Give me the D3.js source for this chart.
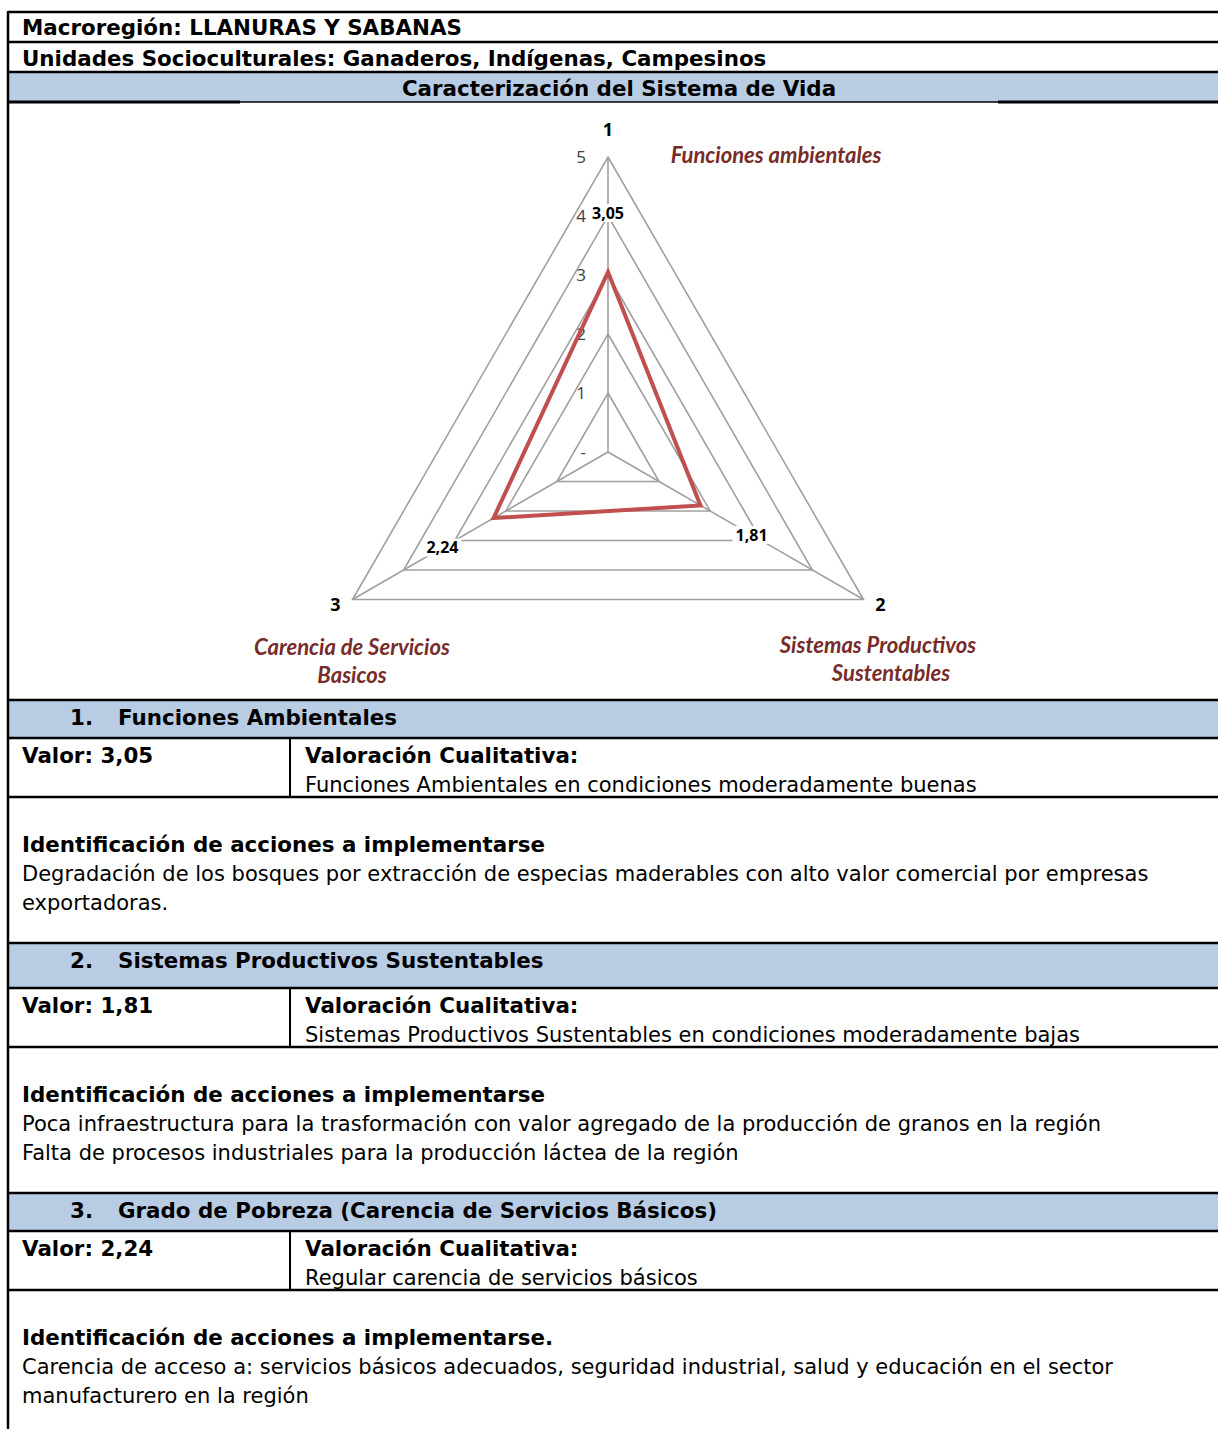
<!DOCTYPE html>
<html>
<head>
<meta charset="utf-8">
<script src="https://cdn.jsdelivr.net/npm/d3@7"></script>
<style>
  body { margin: 0; background: #fff; }
  svg text { font-family: "DejaVu Sans", sans-serif; }
</style>
</head>
<body>
<div id="root"></div>
<script>
// Chart data
const axisIds = ["1", "2", "3"];
const axisNames = [["Funciones ambientales"], ["Sistemas Productivos", "Sustentables"], ["Carencia de Servicios", "Basicos"]];
const values = [3.05, 1.81, 2.24];
const valueLabels = ["3,05", "1,81", "2,24"];
const tickValues = [0, 1, 2, 3, 4, 5];
const tickLabels = ["-", "1", "2", "3", "4", "5"];

// Document texts
const headerLines = ["Macroregión: LLANURAS Y SABANAS", "Unidades Socioculturales: Ganaderos, Indígenas, Campesinos"];
const chartTitle = "Caracterización del Sistema de Vida";
const sectionTitles = ["Funciones Ambientales", "Sistemas Productivos Sustentables", "Grado de Pobreza (Carencia de Servicios Básicos)"];
const qualitative = [
  "Funciones Ambientales en condiciones moderadamente buenas",
  "Sistemas Productivos Sustentables en condiciones moderadamente bajas",
  "Regular carencia de servicios básicos"
];
const actionTitles = ["Identificación de acciones a implementarse", "Identificación de acciones a implementarse", "Identificación de acciones a implementarse."];
const actionLines = [
  ["Degradación de los bosques por extracción de especias maderables con alto valor comercial por empresas", "exportadoras."],
  ["Poca infraestructura para la trasformación con valor agregado de la producción de granos en la región", "Falta de procesos industriales para la producción láctea de la región"],
  ["Carencia de acceso a: servicios básicos adecuados, seguridad industrial, salud y educación en el sector", "manufacturero en la región"]
];

const width = 1218, height = 1429;
const blue = "#b8cce4";
const fs = 21, fsBold = 21.4;

const svg = d3.select("#root").append("svg")
  .attr("width", width).attr("height", height);

const hline = (y, x1, x2, w) => svg.append("line")
  .attr("x1", x1).attr("x2", x2).attr("y1", y).attr("y2", y)
  .attr("stroke", "#000").attr("stroke-width", w);
const txt = (x, y, s, bold, anchor) => svg.append("text")
  .attr("x", x).attr("y", y).attr("dy", "0.36em")
  .attr("font-size", bold ? fsBold : fs).attr("font-weight", bold ? "bold" : "normal")
  .attr("text-anchor", anchor || "start").attr("fill", "#000").text(s);

// Header rows
svg.append("rect").attr("x", 8).attr("y", 72).attr("width", width - 8).attr("height", 30).attr("fill", blue);
hline(12, 8, width, 2.5);
hline(42, 8, width, 2.5);
hline(72, 8, width, 2.5);
hline(102, 8, 240, 3);
hline(102, 240, 998, 1.5);
hline(102, 998, width, 3);
txt(22, 27, headerLines[0], true);
txt(22, 58, headerLines[1], true);
txt(619, 88, chartTitle, true, "middle");

// Radar chart
const cx = 608, cy = 452;
const r = d3.scaleLinear().domain([0, 5]).range([0, 295]);
const angle = d3.scaleLinear().domain([0, axisIds.length]).range([0, 2 * Math.PI]);
const pt = (i, v) => [cx + r(v) * Math.sin(angle(i)), cy - r(v) * Math.cos(angle(i))];

const grid = svg.append("g").attr("fill", "none").attr("stroke", "#a0a0a0").attr("stroke-width", 1.6);
grid.selectAll("path.level")
  .data(tickValues.filter(d => d > 0))
  .join("path")
  .attr("d", v => d3.line()(axisIds.map((_, i) => pt(i, v))) + "Z");
grid.selectAll("line")
  .data(axisIds)
  .join("line")
  .attr("x1", cx).attr("y1", cy)
  .attr("x2", (d, i) => pt(i, 5)[0]).attr("y2", (d, i) => pt(i, 5)[1]);

svg.append("g").selectAll("text")
  .data(tickValues)
  .join("text")
  .attr("x", cx - 22).attr("y", d => cy - r(d))
  .attr("dy", "0.35em").attr("text-anchor", "end")
  .style("font-family", "'Open Sans', sans-serif")
  .attr("font-size", 17).attr("fill", "#404040")
  .text((d, i) => tickLabels[i]);

svg.append("path")
  .attr("d", d3.line()(values.map((v, i) => pt(i, v))) + "Z")
  .attr("fill", "none").attr("stroke", "#c0504d").attr("stroke-width", 4)
  .attr("stroke-linejoin", "miter");

// value labels with white box
const vl = svg.append("g").selectAll("g")
  .data(values)
  .join("g")
  .attr("transform", (d, i) => `translate(${pt(i, d + 1)})`);
vl.append("rect").attr("x", -19).attr("y", -9).attr("width", 38).attr("height", 18).attr("fill", "#fff");
vl.append("text")
  .attr("text-anchor", "middle").attr("dy", "0.35em")
  .style("font-family", "'Open Sans', sans-serif")
  .attr("font-size", 16).attr("font-weight", "bold").attr("fill", "#000")
  .text((d, i) => valueLabels[i]);

// axis ids
const idOffset = [[0, -4], [17, 5], [-17, 5]];
svg.append("g").selectAll("text")
  .data(axisIds)
  .join("text")
  .attr("x", (d, i) => pt(i, 5.4)[0] + idOffset[i][0] - (i ? Math.sin(angle(i)) * r(0.4) : 0))
  .attr("y", (d, i) => (i ? pt(i, 5)[1] : pt(i, 5.4)[1]) + idOffset[i][1])
  .attr("dy", "0.35em").attr("text-anchor", "middle")
  .style("font-family", "'Open Sans', sans-serif")
  .attr("font-size", 18).attr("font-weight", "bold").attr("fill", "#000")
  .text(d => d);

// series name boxes
const namePos = [[776, 155], [878, 645], [352, 647]];
axisNames.forEach((lines, i) => {
  lines.forEach((s, j) => {
    svg.append("text")
      .attr("x", namePos[i][0] + (i === 1 && j === 1 ? 13 : 0)).attr("y", namePos[i][1] + j * 28)
      .attr("dy", "0.35em").attr("text-anchor", "middle")
      .style("font-family", "Lato, sans-serif").style("font-style", "italic")
      .attr("font-size", 22).attr("font-weight", "bold").attr("fill", "#772c2a")
      .text(s);
  });
});

// Sections
const sectionTop = [700, 943, 1193];
const sectionBandH = [38, 45, 38];
sectionTitles.forEach((t, k) => {
  const y0 = sectionTop[k], y1 = y0 + sectionBandH[k], y2 = y1 + 59;
  svg.append("rect").attr("x", 8).attr("y", y0).attr("width", width - 8).attr("height", y1 - y0).attr("fill", blue);
  hline(y0, 8, width, 2.5);
  hline(y1, 8, width, 2.5);
  hline(y2, 8, width, 2.5);
  svg.append("line").attr("x1", 290).attr("x2", 290).attr("y1", y1).attr("y2", y2)
    .attr("stroke", "#000").attr("stroke-width", 2);
  const ty = y0 + 17;
  txt(70, ty, (k + 1) + ".", true);
  txt(118, ty, t, true);
  txt(22, y1 + 17, "Valor: " + valueLabels[k], true);
  txt(305, y1 + 17, "Valoración Cualitativa:", true);
  txt(305, y1 + 46, qualitative[k]);
  txt(22, y2 + 47, actionTitles[k], true);
  actionLines[k].forEach((s, j) => txt(22, y2 + 76 + j * 29, s));
});

// left border
svg.append("line").attr("x1", 8).attr("x2", 8).attr("y1", 11).attr("y2", height)
  .attr("stroke", "#000").attr("stroke-width", 2.5);
</script>
</body>
</html>
